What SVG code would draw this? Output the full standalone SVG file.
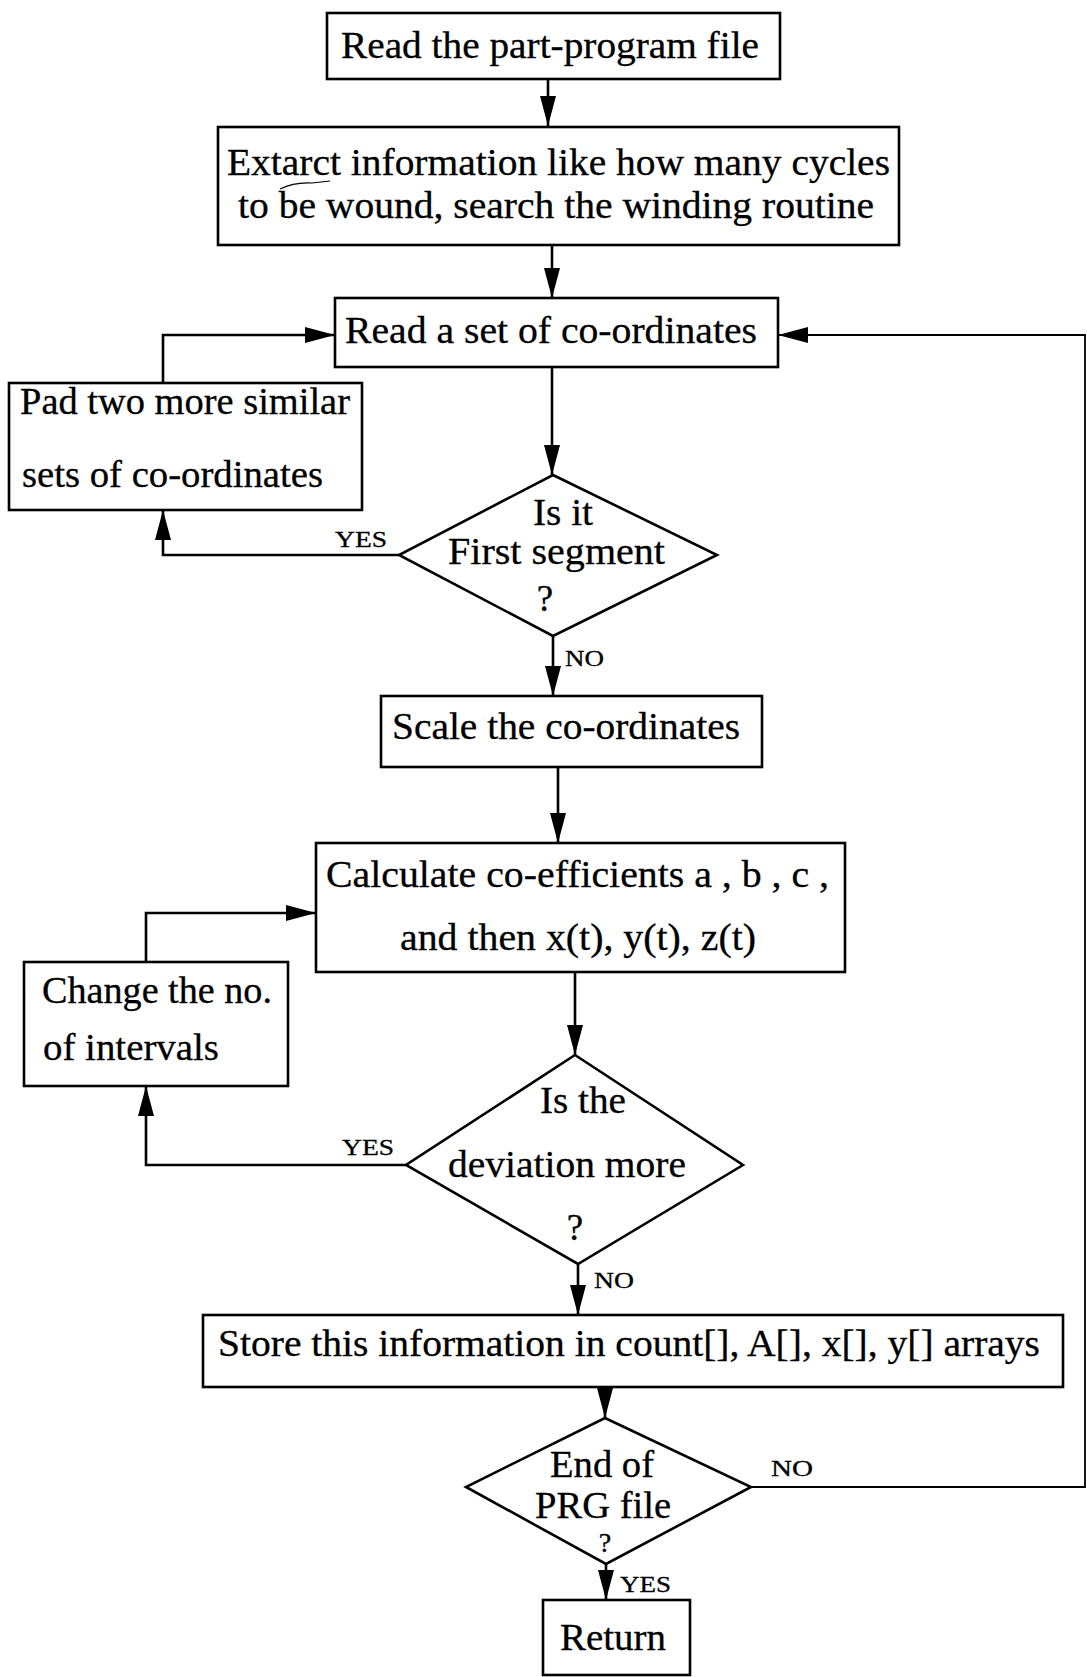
<svg xmlns="http://www.w3.org/2000/svg" width="1087" height="1677" viewBox="0 0 1087 1677">
<style>
.box{fill:#fff;stroke:#000;stroke-width:2.6}
.t{font-family:"Liberation Serif","Times New Roman",serif;font-size:37px;fill:#000;stroke:#000;stroke-width:0.3}
.l{font-family:"Liberation Serif","Times New Roman",serif;font-size:23px;fill:#000;stroke:#000;stroke-width:0.3}
.c{fill:none;stroke:#000;stroke-width:2.6}
.thin{fill:none;stroke:#000;stroke-width:1.8}
</style>
<defs>
<marker id="ah" markerUnits="userSpaceOnUse" markerWidth="32" markerHeight="18" refX="30" refY="8" orient="auto">
<path d="M0,0 L30,8 L0,16 z" fill="#000"/>
</marker>
</defs>
<rect width="1087" height="1677" fill="#fff"/>

<g id="connectors">
<path class="c" d="M548,79 L548,126" marker-end="url(#ah)"/>
<path class="c" d="M552,245 L552,298" marker-end="url(#ah)"/>
<path class="c" d="M552,367 L552,475" marker-end="url(#ah)"/>
<path class="c" d="M399,555 L163,555 L163,510" marker-end="url(#ah)"/>
<path class="c" d="M163,383 L163,335 L335,335" marker-end="url(#ah)"/>
<path class="c" d="M553,636 L553,696" marker-end="url(#ah)"/>
<path class="c" d="M558,767 L558,843" marker-end="url(#ah)"/>
<path class="c" d="M146,962 L146,913 L316,913" marker-end="url(#ah)"/>
<path class="c" d="M575,972 L575,1055" marker-end="url(#ah)"/>
<path class="c" d="M406,1165 L146,1165 L146,1086" marker-end="url(#ah)"/>
<path class="c" d="M578,1264 L578,1315" marker-end="url(#ah)"/>
<path class="c" d="M605,1387 L605,1418" marker-end="url(#ah)"/>
<path class="c" d="M606,1564 L606,1600" marker-end="url(#ah)"/>
<path class="thin" d="M751,1487 L1085,1487 L1085,335 L778,335" marker-end="url(#ah)"/>
<text class="l" x="335" y="547" textLength="52" lengthAdjust="spacingAndGlyphs">YES</text>
<text class="l" x="565" y="666" textLength="39" lengthAdjust="spacingAndGlyphs">NO</text>
<text class="l" x="342" y="1155" textLength="52" lengthAdjust="spacingAndGlyphs">YES</text>
<text class="l" x="594" y="1288" textLength="40" lengthAdjust="spacingAndGlyphs">NO</text>
<text class="l" x="771" y="1476" textLength="42" lengthAdjust="spacingAndGlyphs">NO</text>
<text class="l" x="620" y="1592" textLength="51" lengthAdjust="spacingAndGlyphs">YES</text>
</g>

<g id="read-file">
<rect class="box" x="327" y="13" width="453" height="66"/>
<text class="t" x="341" y="58" textLength="418" lengthAdjust="spacingAndGlyphs">Read the part-program file</text>
</g>

<g id="extract">
<rect class="box" x="218" y="127" width="681" height="118"/>
<text class="t" x="227" y="175" textLength="663" lengthAdjust="spacingAndGlyphs">Extarct information like how many cycles</text>
<text class="t" x="238" y="218" textLength="636" lengthAdjust="spacingAndGlyphs">to be wound, search the winding routine</text>
<path d="M280,189 Q294,182 312,183 L330,181" fill="none" stroke="#000" stroke-width="1.2"/>
</g>

<g id="read-coords">
<rect class="box" x="335" y="298" width="443" height="69"/>
<text class="t" x="345" y="343" textLength="412" lengthAdjust="spacingAndGlyphs">Read a set of co-ordinates</text>
</g>

<g id="pad">
<rect class="box" x="9" y="383" width="353" height="127"/>
<text class="t" x="20" y="414" textLength="330" lengthAdjust="spacingAndGlyphs">Pad two more similar</text>
<text class="t" x="22" y="487" textLength="301" lengthAdjust="spacingAndGlyphs">sets of co-ordinates</text>
</g>

<g id="first-segment">
<polygon class="box" points="553,475 717,555 553,636 399,555"/>
<text class="t" x="533" y="525" textLength="60" lengthAdjust="spacingAndGlyphs">Is it</text>
<text class="t" x="448" y="564" textLength="217" lengthAdjust="spacingAndGlyphs">First segment</text>
<text class="t" x="545" y="611" text-anchor="middle">?</text>
</g>

<g id="scale">
<rect class="box" x="381" y="696" width="381" height="71"/>
<text class="t" x="392" y="739" textLength="348" lengthAdjust="spacingAndGlyphs">Scale the co-ordinates</text>
</g>

<g id="calculate">
<rect class="box" x="316" y="843" width="529" height="129"/>
<text class="t" x="326" y="887" textLength="503" lengthAdjust="spacingAndGlyphs">Calculate co-efficients a , b , c ,</text>
<text class="t" x="400" y="950" textLength="356" lengthAdjust="spacingAndGlyphs">and then x(t), y(t), z(t)</text>
</g>

<g id="change">
<rect class="box" x="24" y="962" width="264" height="124"/>
<text class="t" x="42" y="1003" textLength="230" lengthAdjust="spacingAndGlyphs">Change the no.</text>
<text class="t" x="43" y="1060" textLength="176" lengthAdjust="spacingAndGlyphs">of intervals</text>
</g>

<g id="deviation">
<polygon class="box" points="575,1055 743,1165 578,1264 406,1165"/>
<text class="t" x="540" y="1113" textLength="86" lengthAdjust="spacingAndGlyphs">Is the</text>
<text class="t" x="448" y="1177" textLength="238" lengthAdjust="spacingAndGlyphs">deviation more</text>
<text class="t" x="575" y="1240" text-anchor="middle">?</text>
</g>

<g id="store">
<rect class="box" x="203" y="1315" width="860" height="72"/>
<text class="t" x="218" y="1356" textLength="822" lengthAdjust="spacingAndGlyphs">Store this information in count[], A[], x[], y[] arrays</text>
</g>

<g id="end-of-file">
<polygon class="box" points="605,1418 751,1487 606,1564 466,1487"/>
<text class="t" x="550" y="1477" textLength="104" lengthAdjust="spacingAndGlyphs">End of</text>
<text class="t" x="535" y="1518" textLength="136" lengthAdjust="spacingAndGlyphs">PRG file</text>
<text class="t" x="605" y="1552" text-anchor="middle" style="font-size:28px">?</text>
</g>

<g id="return">
<rect class="box" x="543" y="1600" width="147" height="75"/>
<text class="t" x="560" y="1650" textLength="106" lengthAdjust="spacingAndGlyphs">Return</text>
</g>
</svg>
